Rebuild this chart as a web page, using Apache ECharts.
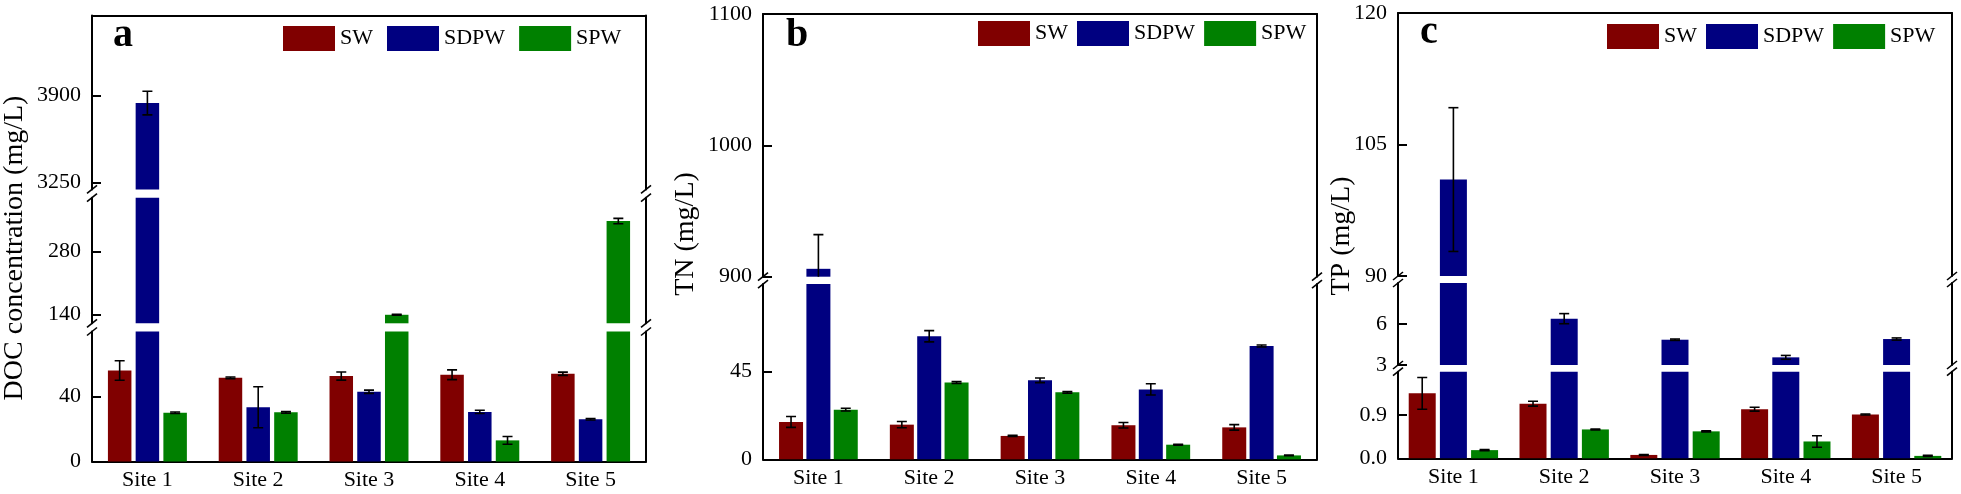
<!DOCTYPE html>
<html><head><meta charset="utf-8">
<script src="https://cdn.jsdelivr.net/npm/echarts@6.0.0/dist/echarts.min.js"></script>
<style>html,body{margin:0;padding:0;background:#fff}#c{width:1961px;height:494px}</style>
</head><body><div id="c"></div>
<script>
// ---------- data ----------
const categories = ['Site 1', 'Site 2', 'Site 3', 'Site 4', 'Site 5'];
const seriesNames = ['SW', 'SDPW', 'SPW'];

// (a) DOC concentration (mg/L)
const docSW = [56, 51.5, 52.6, 53.4, 54];
const docSDPW = [3845, 33.4, 42.9, 30.5, 26];
const docSPW = [30, 30.3, 139, 13, 348];
const docSWErr = [6, 0.5, 2.5, 3, 1];
const docSDPWErr = [88, 12.6, 1, 1, 0.5];
const docSPWErr = [0.5, 0.5, 1, 2.4, 6];
const docSegments = [[0, 80], [120, 400], [3200, 4500]];
const docTicks = [[0, 40], [140, 280], [3250, 3900]];

// (b) TN (mg/L)
const tnSW = [19.2, 17.8, 12, 17.5, 16.4];
const tnSDPW = [906, 63.2, 40.6, 35.9, 58.2];
const tnSPW = [25.5, 39.5, 34.4, 7.5, 2];
const tnSWErr = [2.8, 1.6, 0.3, 1.4, 1.4];
const tnSDPWErr = [26, 2.9, 1.2, 2.9, 0.5];
const tnSPWErr = [0.7, 0.5, 0.4, 0.2, 0.2];
const tnSegments = [[0, 90], [900, 1100]];
const tnTicks = [[0, 45], [900, 1000, 1100]];

// (c) TP (mg/L)
const tpSW = [1.35, 1.135, 0.07, 1.02, 0.91];
const tpSDPW = [101, 6.39, 4.85, 3.56, 4.9];
const tpSPW = [0.17, 0.6, 0.56, 0.35, 0.05];
const tpSWErr = [0.33, 0.05, 0.01, 0.04, 0.01];
const tpSDPWErr = [8.2, 0.37, 0.05, 0.14, 0.08];
const tpSPWErr = [0.01, 0.01, 0.01, 0.12, 0.01];
const tpSegments = [[0, 1.8], [3, 9], [90, 120]];
const tpTicks = [[0, 0.9], [3, 6], [90, 105, 120]];
const tpTickDecimals = [1, 0, 0];

// ---------- layout / style ----------
const FONT = '"Liberation Serif","Times New Roman",serif';
const COLORS = ['#800000', '#000080', '#008000'];

const panels = [
  { letter: 'a', title: 'DOC concentration (mg/L)', left: 92, right: 646,
    titleX: 15, titleY: 248, letterX: 113, letterY: 36,
    legendLeft: 278, legendTop: 21, legendGap: 14, barWidth: 23.5, gapFrac: 0.18,
    values: [docSW, docSDPW, docSPW], errors: [docSWErr, docSDPWErr, docSPWErr],
    ranges: docSegments, ticks: docTicks, decimals: [0, 0, 0],
    px: [[331.5, 461.5], [197.7, 323.3], [15.4, 189.4]] },
  { letter: 'b', title: 'TN (mg/L)', left: 763, right: 1317,
    titleX: 686, titleY: 234, letterX: 786, letterY: 36,
    legendLeft: 973, legendTop: 16, legendGap: 9, barWidth: 24, gapFrac: 0.14,
    values: [tnSW, tnSDPW, tnSPW], errors: [tnSWErr, tnSDPWErr, tnSPWErr],
    ranges: tnSegments, ticks: tnTicks, decimals: [0, 0],
    px: [[284.1, 459.3], [13.9, 276.7]] },
  { letter: 'c', title: 'TP (mg/L)', left: 1398, right: 1952,
    titleX: 1342, titleY: 236, letterX: 1420, letterY: 33,
    legendLeft: 1602, legendTop: 19, legendGap: 9, barWidth: 27, gapFrac: 0.155,
    values: [tpSW, tpSDPW, tpSPW], errors: [tpSWErr, tpSDPWErr, tpSPWErr],
    ranges: tpSegments, ticks: tpTicks, decimals: tpTickDecimals,
    px: [[371.7, 458.3], [283, 365], [13, 276]] }
];

const option = { animation: false, backgroundColor: '#fff', grid: [], xAxis: [], yAxis: [], series: [], legend: [], graphic: [] };

panels.forEach(p => {
  const nSeg = p.ranges.length;
  p.ranges.forEach((r, si) => {
    const gi = option.grid.length;
    const [pt, pb] = p.px[si];
    option.grid.push({ left: p.left, top: pt, width: p.right - p.left, height: pb - pt });
    const isLow = si === 0, isTop = si === nSeg - 1;
    const xi = option.xAxis.length;
    option.xAxis.push({
      type: 'category', gridIndex: gi, data: categories,
      position: isTop ? 'top' : 'bottom',
      axisLine: { show: isLow || isTop, onZero: false, lineStyle: { color: '#000', width: 2 } },
      axisTick: { show: false },
      axisLabel: { show: isLow, fontFamily: FONT, fontSize: 22, color: '#000', margin: 8 },
      splitLine: { show: false }
    });
    const yi = option.yAxis.length;
    const dec = p.decimals[si];
    option.yAxis.push({
      type: 'value', gridIndex: gi, min: r[0], max: r[1], position: 'left',
      axisLine: { show: true, lineStyle: { color: '#000', width: 2 } },
      axisTick: { show: true, inside: true, length: 9, lineStyle: { color: '#000', width: 2 }, customValues: p.ticks[si] },
      axisLabel: { show: true, customValues: p.ticks[si], formatter: v => Number(v).toFixed(dec),
        fontFamily: FONT, fontSize: 22, color: '#000', margin: 11 },
      splitLine: { show: false }
    });
    option.yAxis.push({
      type: 'value', gridIndex: gi, min: 0, max: 1, position: 'right',
      axisLine: { show: true, lineStyle: { color: '#000', width: 2 } },
      axisTick: { show: false }, axisLabel: { show: false }, splitLine: { show: false }
    });
    seriesNames.forEach((name, k) => {
      option.series.push({
        type: 'bar', name, xAxisIndex: xi, yAxisIndex: yi, data: p.values[k],
        barWidth: p.barWidth, barGap: (p.gapFrac * 100) + '%',
        itemStyle: { color: COLORS[k] }, clip: true, z: 2
      });
    });
    seriesNames.forEach((name, k) => {
      const off = (k - 1) * p.barWidth * (1 + p.gapFrac);
      option.series.push({
        type: 'custom', name: 'err-' + name, xAxisIndex: xi, yAxisIndex: yi, clip: true, z: 5,
        data: p.values[k].map((v, i) => [i, v, p.errors[k][i]]),
        encode: { x: 0, y: 1 },
        renderItem: (params, api) => {
          const ci = api.value(0), v = api.value(1), e = api.value(2);
          const t = api.coord([ci, v + e]);
          const b = api.coord([ci, v - e]);
          const x = t[0] + off;
          const st = { stroke: '#000', lineWidth: 1.6 };
          return { type: 'group', children: [
            { type: 'line', shape: { x1: x, y1: t[1], x2: x, y2: b[1] }, style: st },
            { type: 'line', shape: { x1: x - 5, y1: t[1], x2: x + 5, y2: t[1] }, style: st },
            { type: 'line', shape: { x1: x - 5, y1: b[1], x2: x + 5, y2: b[1] }, style: st }
          ] };
        }
      });
    });
  });

  option.legend.push({
    data: seriesNames, left: p.legendLeft, top: p.legendTop, itemWidth: 52, itemHeight: 25,
    itemGap: p.legendGap, icon: 'rect', selectedMode: false,
    textStyle: { fontFamily: FONT, fontSize: 22, color: '#000' }
  });

  // axis title
  option.graphic.push({
    type: 'text', x: p.titleX, y: p.titleY, rotation: Math.PI / 2,
    style: { text: p.title, font: '28px ' + FONT, fill: '#000', align: 'center', verticalAlign: 'middle', textAlign: 'center', textVerticalAlign: 'middle' }
  });
  // panel letter
  option.graphic.push({
    type: 'text', x: p.letterX, y: p.letterY,
    style: { text: p.letter, font: 'bold 40px ' + FONT, fill: '#000', align: 'left', verticalAlign: 'middle', textAlign: 'left', textVerticalAlign: 'middle' }
  });
  // break marks
  for (let si = 0; si < nSeg - 1; si++) {
    const yEnds = [p.px[si][0], p.px[si + 1][1]];
    [p.left, p.right].forEach(x => {
      yEnds.forEach(y => {
        option.graphic.push({ type: 'line', shape: { x1: x - 5, y1: y + 4, x2: x + 5, y2: y - 4 },
          style: { stroke: '#000', lineWidth: 1.6 } });
      });
    });
  }
});

const chart = echarts.init(document.getElementById('c'), null, { renderer: 'canvas' });
chart.setOption(option);
</script>
</body></html>
